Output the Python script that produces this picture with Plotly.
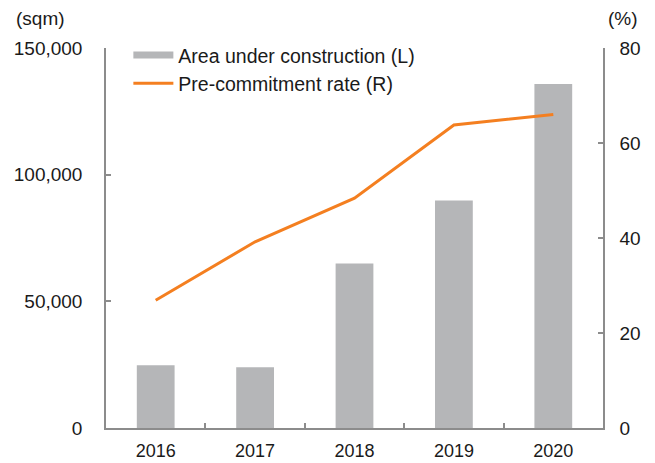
import plotly.graph_objects as go

years = ["2016", "2017", "2018", "2019", "2020"]
area_sqm = [24800, 24000, 64900, 89800, 135800]
precommit_pct = [26.9, 39.2, 48.4, 63.8, 66.0]

left_ticks = [0, 50000, 100000, 150000]
left_tick_text = ["0", "50,000", "100,000", "150,000"]
right_ticks = [0, 20, 40, 60, 80]

GRAY_BAR = "#b5b6b8"
ORANGE = "#f47f20"
AXIS = "#8c8c8c"
FONT = "Liberation Sans, Arial, sans-serif"
TXT = "#1a1a1a"

fig = go.Figure()
fig.add_trace(go.Bar(x=years, y=area_sqm, marker=dict(color=GRAY_BAR, line=dict(width=0)),
                     width=0.38, showlegend=False, yaxis="y"))
# legend proxy for the bar series
fig.add_trace(go.Scatter(x=[None], y=[None], mode="lines", line=dict(color=GRAY_BAR, width=7),
                         name="Area under construction (L)", legendgroup="a", yaxis="y"))
fig.add_trace(go.Scatter(x=years, y=precommit_pct, mode="lines", line=dict(color=ORANGE, width=3),
                         name="Pre-commitment rate (R)", legendgroup="b", yaxis="y2"))

axis_common = dict(showgrid=False, zeroline=False, showline=True, linecolor=AXIS, linewidth=1.5,
                   ticks="inside", ticklen=5, tickcolor=AXIS, tickwidth=1.5, automargin=False,
                   tickfont=dict(family=FONT, size=19, color=TXT))

# page body has an 8px default margin; figure is sized so the plot area lands where the reference has it
fig.update_layout(
    width=647, height=455,
    margin=dict(l=98, r=52, t=40, b=35),
    paper_bgcolor="white", plot_bgcolor="white",
    xaxis=dict(**axis_common, tickson="boundaries", range=[-0.5, 4.5], ticklabelstandoff=6),
    yaxis=dict(**axis_common, range=[0, 150000], tickvals=left_ticks, ticktext=left_tick_text,
               ticklabelstandoff=18),
    yaxis2=dict(**axis_common, overlaying="y", side="right", range=[0, 80], tickvals=right_ticks,
                ticklabelstandoff=11),
    legend=dict(x=0.045, y=1.032, xanchor="left", yanchor="top", bgcolor="rgba(0,0,0,0)",
                font=dict(family=FONT, size=19.5, color=TXT), tracegroupgap=0,
                traceorder="grouped", itemwidth=40),
    annotations=[
        dict(text="(sqm)", xref="paper", yref="paper", x=-0.186, y=1.045, xanchor="left",
             yanchor="bottom", showarrow=False, font=dict(family=FONT, size=19, color=TXT)),
        dict(text="(%)", xref="paper", yref="paper", x=1.006, y=1.045, xanchor="left",
             yanchor="bottom", showarrow=False, font=dict(family=FONT, size=19, color=TXT)),
    ],
)
fig.update_xaxes(tickfont=dict(size=18))

fig.write_html("out.html")
